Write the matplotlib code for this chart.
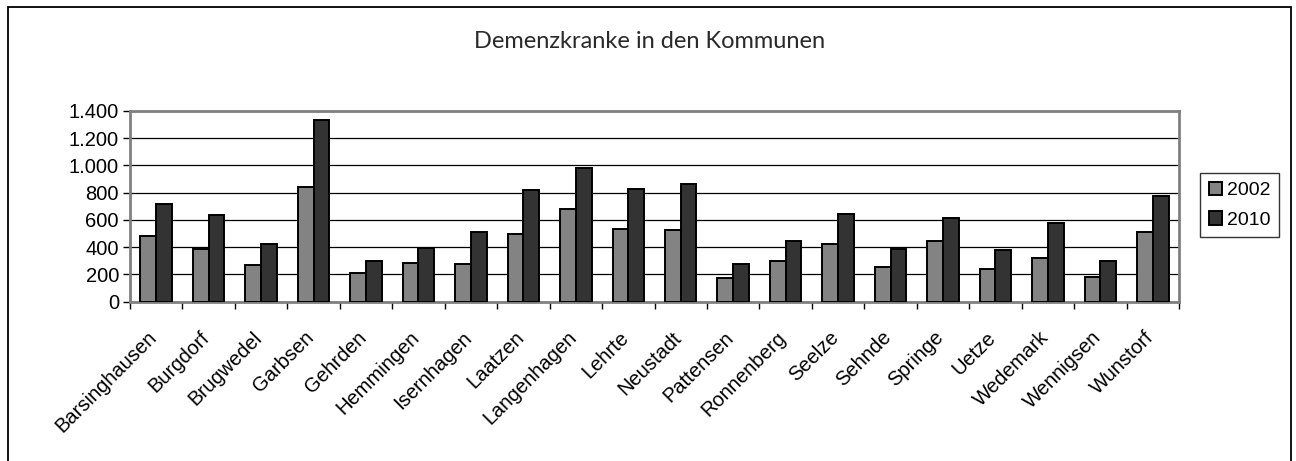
import matplotlib
matplotlib.use("Agg")
import matplotlib.pyplot as plt
import matplotlib.transforms as mtransforms
import numpy as np
from matplotlib.patches import Rectangle

categories = ["Barsinghausen", "Burgdorf", "Brugwedel", "Garbsen", "Gehrden",
              "Hemmingen", "Isernhagen", "Laatzen", "Langenhagen", "Lehrte",
              "Neustadt", "Pattensen", "Ronnenberg", "Seelze", "Sehnde",
              "Springe", "Uetze", "Wedemark", "Wennigsen", "Wunstorf"]
v2002 = [483, 390, 267, 842, 209, 287, 275, 500, 682, 532,
         523, 174, 297, 425, 258, 444, 238, 324, 182, 510]
v2010 = [717, 633, 425, 1337, 302, 393, 513, 820, 982, 829,
         864, 280, 442, 643, 390, 618, 380, 579, 299, 773]
series_labels = ["2002", "2010"]
yticks = [0, 200, 400, 600, 800, 1000, 1200, 1400]
ytick_labels = ["0", "200", "400", "600", "800", "1.000", "1.200", "1.400"]
title = "Demenzkranke in den Kommunen"

W, H = 1296, 461
fig = plt.figure(figsize=(W / 100, H / 100), dpi=100)
fig.patch.set_facecolor("white")

# outer chart border
fig.patches.append(Rectangle((8 / W, -0.05), (1291 - 8) / W, 1 - 7 / H + 0.05,
                             transform=fig.transFigure, fill=False,
                             edgecolor="black", linewidth=1.3))

left, right, top, bottom = 130, 1179, 111, 301.7
ax = fig.add_axes([left / W, 1 - bottom / H, (right - left) / W, (bottom - top) / H])

x = np.arange(len(categories))
bw = 0.30
ax.bar(x - bw / 2, v2002, width=bw, color="#838383", edgecolor="black",
       linewidth=1.4, label=series_labels[0], zorder=3)
ax.bar(x + bw / 2, v2010, width=bw, color="#333333", edgecolor="black",
       linewidth=1.4, label=series_labels[1], zorder=3)

ax.set_xlim(-0.5, len(categories) - 0.5)
ax.set_ylim(0, 1400)
ax.set_yticks(yticks)
ax.set_yticklabels(ytick_labels, fontfamily="Liberation Sans", fontsize=14.5)
ax.yaxis.grid(True, color="black", linewidth=0.9, zorder=0)
ax.set_axisbelow(True)

ax.set_xticks(x)
ax.set_xticklabels(categories, rotation=45, ha="right", va="top",
                   rotation_mode="anchor", fontfamily="Liberation Sans", fontsize=14.5)
ax.tick_params(axis="x", length=0, pad=8)
offset = mtransforms.ScaledTranslation(-9 / 100, -15 / 100, fig.dpi_scale_trans)
for lab in ax.get_xticklabels():
    lab.set_transform(lab.get_transform() + offset)
ax.set_xticks(np.arange(-0.5, len(categories)), minor=True)
ax.tick_params(axis="x", which="minor", length=5, width=1, color="black", direction="out")
ax.tick_params(axis="y", length=5, width=1, color="black", direction="out", pad=3)

for s in ax.spines.values():
    s.set_color("#808080")
    s.set_linewidth(2)

fig.text(650 / W, 1 - 48.3 / H, title, ha="center", va="baseline",
         fontfamily="Lato", fontweight="normal", fontsize=17, color="#2a2a2a")

leg = ax.legend(loc="upper left", bbox_to_anchor=(1200 / W, 1 - 173 / H),
                bbox_transform=fig.transFigure, frameon=True, fancybox=False,
                prop={"family": "Liberation Sans", "size": 14},
                handlelength=0.7, handleheight=0.7, handletextpad=0.25,
                borderpad=0.45, labelspacing=0.6, borderaxespad=0)
leg.get_frame().set_edgecolor("black")
leg.get_frame().set_linewidth(1)

fig.savefig("out.png", dpi=100)
